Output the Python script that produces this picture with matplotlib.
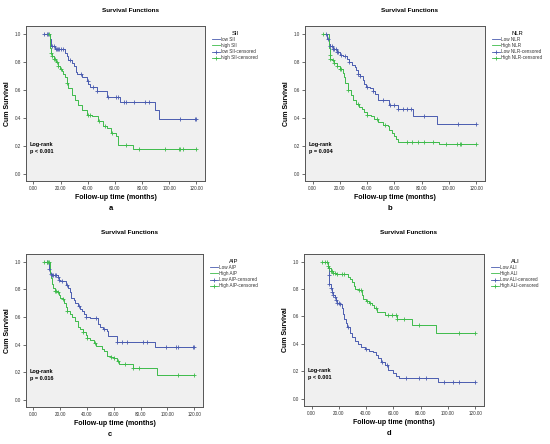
import numpy as np
import matplotlib
matplotlib.use("Agg")
import matplotlib.pyplot as plt
from matplotlib.lines import Line2D

plt.rcParams['font.family'] = ['Liberation Sans', 'DejaVu Sans']

# ---------------- data ----------------
sii_low_t = [8, 12.2, 12.6, 13.0, 16, 23.3, 24.5, 25.7, 28.2, 29.9, 31.3, 32.3, 35.5, 39.7, 40.4, 41.6, 46.5, 54.4, 63.7, 89.9, 92.6, 120]
sii_low_s = [1.0, 0.964, 0.94, 0.91, 0.888, 0.864, 0.84, 0.81, 0.79, 0.77, 0.73, 0.71, 0.69, 0.66, 0.64, 0.62, 0.59, 0.548, 0.514, 0.457, 0.392, 0.392]
sii_low_c = [8, 10, 11, 14, 15, 16.5, 17, 18, 19, 20, 22, 27, 35, 40, 44, 47, 55, 61, 62, 67, 68, 74, 82, 85, 108, 119, 120]
sii_high_t = [10, 12.2, 12.6, 13.5, 15, 16.5, 18, 19.5, 20.8, 22, 23.5, 24.5, 25.7, 28.2, 30.6, 33, 35.5, 39.7, 43, 47.8, 51.4, 53.9, 57.5, 61.2, 62.4, 73.5, 120]
sii_high_s = [1.0, 0.90, 0.86, 0.84, 0.82, 0.80, 0.77, 0.75, 0.732, 0.71, 0.691, 0.65, 0.612, 0.565, 0.529, 0.493, 0.457, 0.421, 0.409, 0.373, 0.342, 0.325, 0.29, 0.266, 0.206, 0.179, 0.179]
sii_high_c = [11.5, 13, 14, 15, 16, 17, 18, 20, 25, 40, 42, 48, 53, 58, 68, 78, 97, 107, 108, 110, 120]

nlr_low_t = [10, 10.6, 12, 13, 15, 18, 20, 22, 25, 27, 29, 31, 32, 33, 35, 37, 38, 39, 42, 44, 46, 48, 56, 63, 74, 91, 120]
nlr_low_s = [1.0, 0.96, 0.93, 0.91, 0.89, 0.87, 0.85, 0.84, 0.82, 0.80, 0.78, 0.76, 0.74, 0.71, 0.70, 0.67, 0.64, 0.62, 0.61, 0.59, 0.57, 0.53, 0.49, 0.46, 0.41, 0.355, 0.355]
nlr_low_c = [10, 11, 13, 14, 15, 16, 17, 18, 19, 21, 24, 27, 33, 35, 40, 44, 52, 57, 60, 63, 66, 69, 72, 82, 107, 120]
nlr_high_t = [8, 12, 12.5, 13, 14, 16, 18, 20, 22.5, 23, 24, 26, 28, 30, 32, 34, 36, 38, 40, 43, 45, 48, 52, 55, 56, 58, 60, 61, 63, 93, 120]
nlr_high_s = [1.0, 0.90, 0.85, 0.82, 0.81, 0.79, 0.77, 0.75, 0.72, 0.69, 0.65, 0.60, 0.56, 0.53, 0.50, 0.48, 0.46, 0.44, 0.42, 0.41, 0.39, 0.37, 0.35, 0.34, 0.31, 0.29, 0.27, 0.25, 0.23, 0.21, 0.21]
nlr_high_c = [8, 12.5, 13, 15, 16, 18, 20, 21, 26, 33, 40, 47, 53, 69, 73, 77, 82, 88, 98, 106, 108, 109, 120]

aip_low_t = [8, 12, 12.5, 13, 14, 18, 19, 20, 24.5, 26, 27, 28, 30, 31, 33, 35, 36, 38, 39, 42, 48, 50, 52, 55, 56, 62, 90.5, 120]
aip_low_s = [1.0, 0.95, 0.92, 0.91, 0.90, 0.89, 0.87, 0.86, 0.83, 0.81, 0.78, 0.74, 0.72, 0.70, 0.68, 0.66, 0.64, 0.62, 0.60, 0.59, 0.55, 0.53, 0.51, 0.50, 0.46, 0.42, 0.38, 0.38]
aip_low_c = [10, 12, 13, 14, 15, 16, 17, 18, 19, 21, 25, 34, 39, 47, 53, 62, 66, 70, 82, 85, 99, 106, 108, 119, 120]
aip_high_t = [8, 12.5, 13, 14, 15, 16, 18, 19, 20, 22, 23, 24, 25, 27, 29, 31, 33, 35, 37, 39, 40, 42, 45, 47, 51, 53, 55, 58, 60, 62, 64, 74, 92.5, 120]
aip_high_s = [1.0, 0.92, 0.88, 0.84, 0.81, 0.79, 0.78, 0.76, 0.74, 0.73, 0.70, 0.67, 0.64, 0.62, 0.60, 0.57, 0.53, 0.51, 0.49, 0.47, 0.45, 0.43, 0.41, 0.39, 0.37, 0.35, 0.32, 0.31, 0.30, 0.28, 0.26, 0.23, 0.18, 0.18]
aip_high_c = [8, 10, 11, 12, 16, 17, 18, 22, 25, 37, 40, 46, 58, 60, 63, 68, 74, 79, 108, 120]

ali_low_t = [11, 12, 12.5, 13, 14, 15, 16, 17, 18, 19, 21, 22, 23, 24, 25, 26, 28, 30, 32, 34, 36, 39, 42, 45, 47, 49, 51, 54, 56, 60, 62, 64, 92.5, 120]
ali_low_s = [1.0, 0.95, 0.90, 0.84, 0.81, 0.78, 0.76, 0.74, 0.72, 0.70, 0.69, 0.66, 0.62, 0.58, 0.55, 0.52, 0.48, 0.45, 0.42, 0.40, 0.38, 0.36, 0.35, 0.34, 0.32, 0.30, 0.27, 0.25, 0.21, 0.19, 0.17, 0.15, 0.12, 0.12]
ali_low_c = [12.5, 13, 14, 15, 16, 17, 18, 19, 20, 21, 27, 40, 52, 55, 69, 79, 84, 97, 104, 108, 120]
ali_high_t = [8, 12, 13, 14, 16, 18, 27, 28, 30, 31, 32, 35, 37, 38, 40, 42, 44, 46, 48, 54, 63, 74, 91, 120]
ali_high_s = [1.0, 0.97, 0.95, 0.93, 0.92, 0.91, 0.89, 0.87, 0.85, 0.82, 0.80, 0.79, 0.76, 0.73, 0.71, 0.70, 0.68, 0.66, 0.63, 0.61, 0.58, 0.54, 0.48, 0.48]
ali_high_c = [8, 10, 11, 12, 13, 14, 15, 16, 17, 19, 22, 24, 35, 36, 41, 43, 47, 56, 59, 62, 63, 68, 79, 108, 120]

panel_letters = ['a', 'b', 'c', 'd']
group_names = ['SII', 'NLR', 'AIP', 'ALI']
legend_labels = [
    ['low SII', 'high SII', 'low SII-censored', 'high SII-censored'],
    ['Low NLR', 'High NLR', 'Low NLR-censored', 'High NLR-censored'],
    ['Low AIP', 'High AIP', 'Low AIP-censored', 'High AIP-censored'],
    ['Low ALI', 'High ALI', 'Low ALI-censored', 'High ALI-censored'],
]
pvalues = ['p < 0.001', 'p = 0.004', 'p = 0.016', 'p < 0.001']
xticks = [0, 20, 40, 60, 80, 100, 120]
xticklabels = ['0.00', '20.00', '40.00', '60.00', '80.00', '100.00', '120.00']
yticks = [0.0, 0.2, 0.4, 0.6, 0.8, 1.0]
yticklabels = ['0.0', '0.2', '0.4', '0.6', '0.8', '1.0']

curves = [
    (sii_low_t, sii_low_s, sii_low_c, sii_high_t, sii_high_s, sii_high_c),
    (nlr_low_t, nlr_low_s, nlr_low_c, nlr_high_t, nlr_high_s, nlr_high_c),
    (aip_low_t, aip_low_s, aip_low_c, aip_high_t, aip_high_s, aip_high_c),
    (ali_low_t, ali_low_s, ali_low_c, ali_high_t, ali_high_s, ali_high_c),
]

BLUE = '#4a5cb0'
GREEN = '#3dbb4a'

W, H = 550, 444
fig = plt.figure(figsize=(W / 100, H / 100), dpi=100)
fig.patch.set_facecolor('white')

# axes boxes in pixels: left, top, right, bottom
boxes = [(26, 26, 205, 181), (305, 26, 485, 181), (26, 254, 203, 407), (304, 254, 484, 406)]
offsets = [(0, 0), (275, 0), (0, 222), (275, 222)]


def surv_at(t, s, c):
    t = np.asarray(t); s = np.asarray(s)
    idx = np.searchsorted(t, c, side='right') - 1
    idx = np.clip(idx, 0, len(s) - 1)
    return s[idx]


for i in range(4):
    l, tp, r, b = boxes[i]
    ox, oy = offsets[i]
    ax = fig.add_axes([l / W, 1 - b / H, (r - l) / W, (b - tp) / H])
    ax.set_facecolor('#f0f0f0')
    lt, ls, lc, ht, hs, hc = curves[i]
    ax.step(lt, ls, where='post', color=BLUE, lw=0.7)
    ax.step(ht, hs, where='post', color=GREEN, lw=0.7)
    ax.plot(lc, surv_at(lt, ls, lc), ls='none', marker='+', ms=3, mew=0.6, color=BLUE)
    ax.plot(hc, surv_at(ht, hs, hc), ls='none', marker='+', ms=3, mew=0.6, color=GREEN)
    ax.set_xlim(-5.5, 126.5)
    ax.set_ylim(-0.052, 1.055)
    ax.set_xticks(xticks)
    ax.set_xticklabels(xticklabels)
    ax.set_yticks(yticks)
    ax.set_yticklabels(yticklabels)
    ax.tick_params(labelsize=3.3, length=2, width=0.5, pad=1.5, colors='#333333')
    for sp in ax.spines.values():
        sp.set_color('#555555')
        sp.set_linewidth(0.7)
    ax.set_xlabel('Follow-up time (months)', fontsize=5, fontweight='bold', labelpad=2)
    ax.set_ylabel('Cum Survival', fontsize=5, fontweight='bold', labelpad=3)
    ax.text(0.02, 0.25, 'Log-rank\n' + pvalues[i], transform=ax.transAxes,
            fontsize=4, fontweight='bold', va='top', ha='left', linespacing=1.5)
    cx = (l + r) / 2 + 15
    fig.text(cx / W, 1 - (oy + 10) / H, 'Survival Functions', fontsize=4.6,
             fontweight='bold', ha='center', va='center')
    fig.text(((l + r) / 2 - 5) / W, 1 - (b + 27) / H, panel_letters[i], fontsize=5.5,
             fontweight='bold', ha='center', va='center')
    handles = [
        Line2D([], [], color=BLUE, lw=0.6),
        Line2D([], [], color=GREEN, lw=0.6),
        Line2D([], [], color=BLUE, lw=0.6, marker='+', ms=3, mew=0.6),
        Line2D([], [], color=GREEN, lw=0.6, marker='+', ms=3, mew=0.6),
    ]
    leg = ax.legend(handles, legend_labels[i], title=group_names[i], loc='upper left',
                    bbox_to_anchor=(1.02, 0.99), frameon=False, fontsize=3.3,
                    title_fontsize=4.2, handlelength=1.8, handletextpad=0.3,
                    labelspacing=0.25, borderaxespad=0.3)
    for txt in leg.get_texts():
        txt.set_color('#333333')

fig.savefig('out.png', dpi=100, facecolor='white')
